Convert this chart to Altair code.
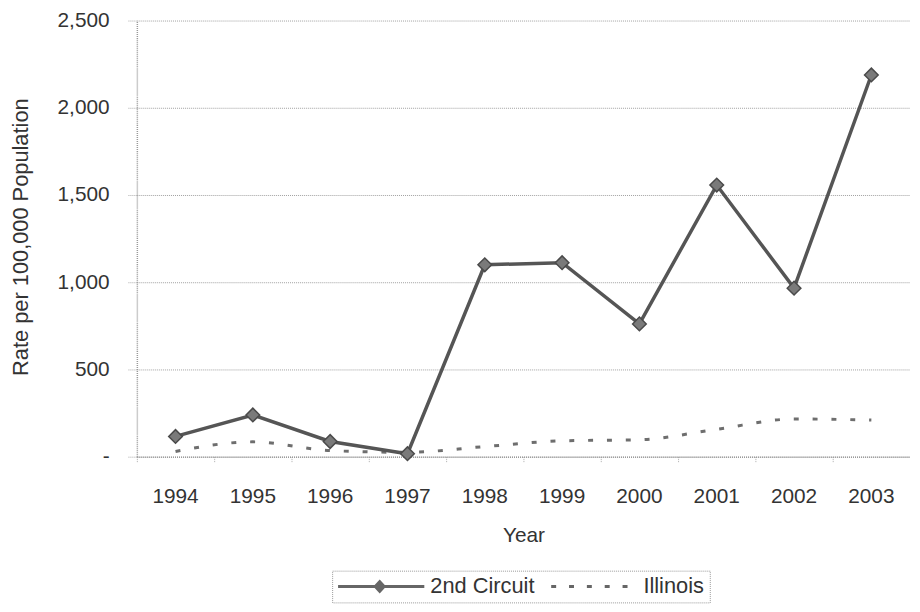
import altair as alt
import pandas as pd

years = ["1994", "1995", "1996", "1997", "1998", "1999", "2000", "2001", "2002", "2003"]
circuit = [116, 239, 87, 17, 1100, 1112, 761, 1557, 966, 2188]
illinois = [30, 85, 35, 25, 58, 91, 97, 157, 216, 210]
series_names = ["2nd Circuit", "Illinois"]
y_ticks = [0, 500, 1000, 1500, 2000, 2500]

rows = []
for i, yr in enumerate(years):
    rows.append({"Year": yr, "Series": series_names[0], "Value": circuit[i]})
    rows.append({"Year": yr, "Series": series_names[1], "Value": illinois[i]})
df = pd.DataFrame(rows)

FONT = "Liberation Sans"
TXT = "#333333"

# legend glyphs (custom symbol paths)
path_circuit = "M-1,-0.15H7.7V0.15H-1Z M3.2,-0.7L3.85,0L3.2,0.7L2.55,0Z"
path_illinois = ("M-1,-0.15H-0.5V0.15H-1Z M0.8,-0.15H1.3V0.15H0.8Z "
                 "M2.6,-0.15H3.1V0.15H2.6Z M4.4,-0.15H4.9V0.15H4.4Z M6.2,-0.15H6.7V0.15H6.2Z")

x_enc = alt.X(
    "Year:O",
    sort=years,
    scale=alt.Scale(type="band", paddingInner=0, paddingOuter=0),
    axis=alt.Axis(
        title="Year",
        bandPosition=0,
        labelAngle=0,
        labelFont=FONT, labelFontSize=21, labelColor=TXT,
        labelBaseline="alphabetic", labelPadding=40,
        tickSize=6, tickColor="#aaaaaa", tickDash=[1, 1],
        domainColor="#999999", domainDash=[1, 1], domainWidth=1.5,
        grid=False,
        titleFont=FONT, titleFontSize=21, titleColor=TXT, titleFontWeight="normal",
        titleBaseline="alphabetic", titleY=86,
    ),
)

y_enc = alt.Y(
    "Value:Q",
    scale=alt.Scale(domain=[0, 2500], nice=False),
    axis=alt.Axis(
        title="Rate per 100,000 Population",
        values=y_ticks,
        labelExpr="datum.value == 0 ? '-' : format(datum.value, ',')",
        labelFont=FONT, labelFontSize=21, labelColor=TXT, labelPadding=18,
        tickSize=10, tickColor="#aaaaaa", tickDash=[1, 1],
        grid=True, gridColor="#a0a0a0", gridDash=[1, 1], gridWidth=1,
        domainColor="#999999", domainDash=[1, 1], domainWidth=1.5,
        titleFont=FONT, titleFontSize=22, titleColor=TXT, titleFontWeight="normal",
        titleX=-110, titleY=218, titleBaseline="alphabetic", titleAlign="center",
    ),
)

base = alt.Chart(df)

ill_line = base.transform_filter(alt.datum.Series == "Illinois").mark_line(
    color="#6e6e6e", strokeWidth=3, strokeDash=[5, 14], interpolate="monotone"
).encode(x=x_enc, y=y_enc)

circ_line = base.transform_filter(alt.datum.Series == "2nd Circuit").mark_line(
    color="#555555", strokeWidth=3.5
).encode(x=x_enc, y=y_enc)

circ_pts = base.transform_filter(alt.datum.Series == "2nd Circuit").mark_point(
    shape="diamond", filled=True, size=190, color="#7a7a7a", stroke="#4a4a4a",
    strokeWidth=1.5, opacity=1
).encode(x=x_enc, y=y_enc)

legend_layer = base.mark_point(filled=True, color="#666666", opacity=0).encode(
    x=x_enc,
    y=y_enc,
    shape=alt.Shape(
        "Series:N",
        scale=alt.Scale(domain=series_names, range=[path_circuit, path_illinois]),
        legend=alt.Legend(
            title=None,
            orient="none",
            legendX=197,
            legendY=555,
            direction="horizontal",
            columns=2,
            columnPadding=15,
            symbolSize=400,
            symbolOpacity=1,
            symbolFillColor="#666666",
            symbolStrokeWidth=0,
            labelOffset=72,
            labelFont=FONT, labelFontSize=22, labelColor=TXT,
            padding=5,
            strokeColor="#999999",
        ),
    ),
)

chart = alt.layer(ill_line, circ_line, circ_pts, legend_layer).properties(
    width=780,
    height=440,
    padding={"left": 130, "top": 10, "right": 2, "bottom": 150},
    autosize=alt.AutoSizeParams(type="none"),
    background="white",
).configure_view(stroke=None).configure_legend(strokeDash=[1, 1])

chart.save("out.html", embed_options={"renderer": "svg", "actions": False})
